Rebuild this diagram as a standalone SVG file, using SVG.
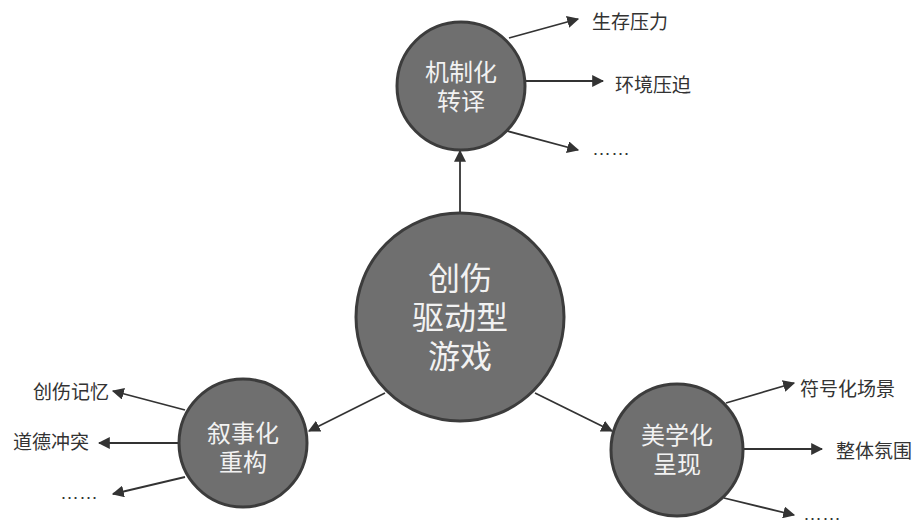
<svg xmlns="http://www.w3.org/2000/svg" width="924" height="525" viewBox="0 0 924 525">
<defs>
<marker id="ah" viewBox="0 0 10 10" refX="9" refY="5" markerWidth="12" markerHeight="12" markerUnits="userSpaceOnUse" orient="auto">
<path d="M0,0 L10,5 L0,10 Z" fill="#333"/>
</marker>
<style>
.node{fill:#6f6f6f;stroke:#3c3c3c;stroke-width:3}
.nt{fill:#f2f2f2;font-family:"Liberation Sans","Noto Sans CJK SC",sans-serif;text-anchor:middle}
.lb{fill:#333;font-family:"Liberation Sans","Noto Sans CJK SC",sans-serif;font-size:19px}
.cn{stroke:#333;stroke-width:1.8;fill:none;marker-end:url(#ah)}
</style>
</defs>
<rect width="924" height="525" fill="#fff"/>
<g id="connectors">
<line class="cn" x1="460" y1="214" x2="460" y2="151"/>
<line class="cn" x1="385" y1="393" x2="309" y2="431"/>
<line class="cn" x1="535" y1="393" x2="612" y2="431"/>
<line class="cn" x1="509" y1="38" x2="578" y2="19"/>
<line class="cn" x1="525" y1="81" x2="603" y2="81"/>
<line class="cn" x1="507" y1="131" x2="578" y2="150"/>
<line class="cn" x1="185" y1="410" x2="113" y2="391"/>
<line class="cn" x1="178" y1="443" x2="99" y2="443"/>
<line class="cn" x1="185" y1="477" x2="113" y2="494"/>
<line class="cn" x1="726" y1="403" x2="794" y2="383"/>
<line class="cn" x1="743" y1="449" x2="822" y2="449"/>
<line class="cn" x1="724" y1="498" x2="794" y2="515"/>
</g>
<g id="center">
<circle class="node" cx="460" cy="317" r="104"/>
<text class="nt" font-size="32" x="460" y="290">创伤</text>
<text class="nt" font-size="32" x="460" y="329">驱动型</text>
<text class="nt" font-size="32" x="460" y="368">游戏</text>
</g>
<g id="top">
<circle class="node" cx="461" cy="86" r="64"/>
<text class="nt" font-size="24" x="461" y="81">机制化</text>
<text class="nt" font-size="24" x="461" y="110">转译</text>
</g>
<g id="left">
<circle class="node" cx="243" cy="443" r="64"/>
<text class="nt" font-size="24" x="243" y="442">叙事化</text>
<text class="nt" font-size="24" x="243" y="471">重构</text>
</g>
<g id="right">
<circle class="node" cx="677" cy="450" r="66"/>
<text class="nt" font-size="24" x="677" y="444">美学化</text>
<text class="nt" font-size="24" x="677" y="473">呈现</text>
</g>
<g id="labels">
<text class="lb" x="592" y="29">生存压力</text>
<text class="lb" x="615" y="92">环境压迫</text>
<text class="lb" x="592" y="155">……</text>
<text class="lb" x="109" y="399" text-anchor="end">创伤记忆</text>
<text class="lb" x="89" y="449" text-anchor="end">道德冲突</text>
<text class="lb" x="60" y="499">……</text>
<text class="lb" x="800" y="396">符号化场景</text>
<text class="lb" x="836" y="458">整体氛围</text>
<text class="lb" x="803" y="520">……</text>
</g>
</svg>
